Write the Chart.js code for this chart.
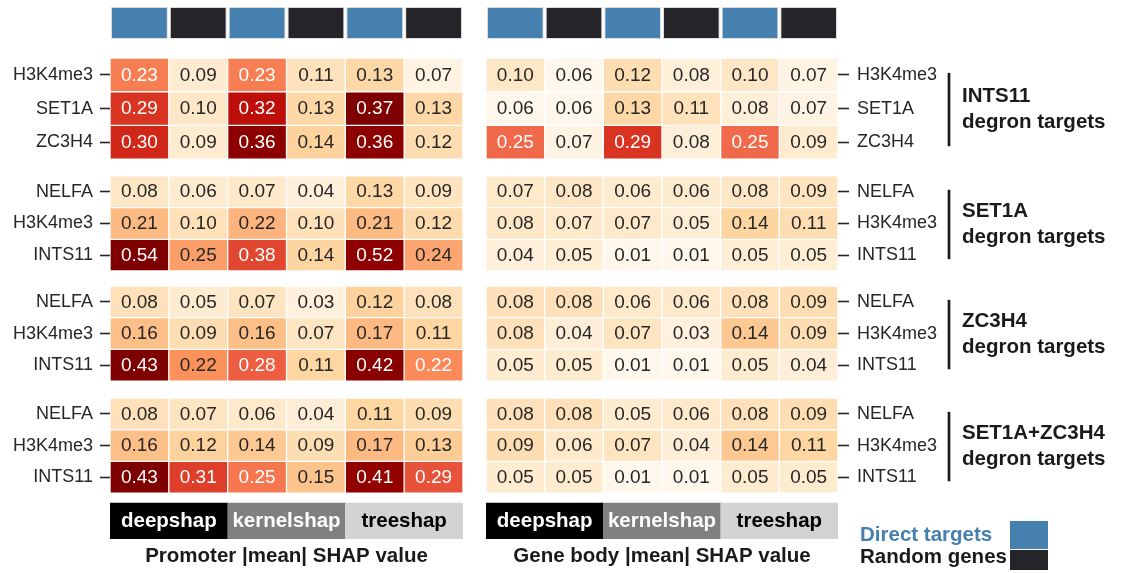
<!DOCTYPE html>
<html>
<head>
<meta charset="utf-8">
<script src="https://cdn.jsdelivr.net/npm/chart.js@4.4.1/dist/chart.umd.min.js"></script>
<style>
  html, body { margin: 0; padding: 0; background: #ffffff; }
  #wrap { position: relative; width: 1125px; height: 573px; overflow: hidden; background: #ffffff; }
  canvas { position: absolute; top: 0; }
  #promoterChart { left: 0; }
  #geneBodyChart { left: 480px; }
</style>
</head>
<body>
<div id="wrap">
  <canvas id="promoterChart" width="480" height="573"></canvas>
  <canvas id="geneBodyChart" width="645" height="573"></canvas>
</div>
<script>
// ---- data ----
const groupNames = ['INTS11', 'SET1A', 'ZC3H4', 'SET1A+ZC3H4'];
const rowLabels = [
  ['H3K4me3', 'SET1A', 'ZC3H4'],
  ['NELFA', 'H3K4me3', 'INTS11'],
  ['NELFA', 'H3K4me3', 'INTS11'],
  ['NELFA', 'H3K4me3', 'INTS11']
];
const methods = ['deepshap', 'kernelshap', 'treeshap'];
const geneSets = ['Direct targets', 'Random genes'];

// |mean| SHAP per row; columns: deepshap (direct, random), kernelshap (direct, random), treeshap (direct, random)
const promoter = [
  [0.23, 0.09, 0.23, 0.11, 0.13, 0.07],
  [0.29, 0.10, 0.32, 0.13, 0.37, 0.13],
  [0.30, 0.09, 0.36, 0.14, 0.36, 0.12],
  [0.08, 0.06, 0.07, 0.04, 0.13, 0.09],
  [0.21, 0.10, 0.22, 0.10, 0.21, 0.12],
  [0.54, 0.25, 0.38, 0.14, 0.52, 0.24],
  [0.08, 0.05, 0.07, 0.03, 0.12, 0.08],
  [0.16, 0.09, 0.16, 0.07, 0.17, 0.11],
  [0.43, 0.216, 0.28, 0.11, 0.42, 0.224],
  [0.08, 0.07, 0.06, 0.04, 0.11, 0.09],
  [0.16, 0.12, 0.14, 0.09, 0.17, 0.13],
  [0.43, 0.31, 0.25, 0.15, 0.41, 0.29]
];
const geneBody = [
  [0.10, 0.06, 0.12, 0.08, 0.10, 0.07],
  [0.06, 0.06, 0.13, 0.11, 0.08, 0.07],
  [0.25, 0.07, 0.29, 0.08, 0.25, 0.09],
  [0.07, 0.08, 0.06, 0.06, 0.08, 0.09],
  [0.08, 0.07, 0.07, 0.05, 0.14, 0.11],
  [0.04, 0.05, 0.01, 0.01, 0.05, 0.05],
  [0.08, 0.08, 0.06, 0.06, 0.08, 0.09],
  [0.08, 0.04, 0.07, 0.03, 0.14, 0.09],
  [0.05, 0.05, 0.01, 0.01, 0.05, 0.04],
  [0.08, 0.08, 0.05, 0.06, 0.08, 0.09],
  [0.09, 0.06, 0.07, 0.04, 0.14, 0.11],
  [0.05, 0.05, 0.01, 0.01, 0.05, 0.05]
];

// ---- layout (y in row units, 0 = top of the gene-set strip) ----
const HEADER_SPAN = [0, 1.01];
const GROUP_TOPS = [1.609, 5.327, 8.800, 12.333];
const GROUP_PITCH = [1.063, 1.0, 1.0, 1.0];
const METHOD_SPAN = [15.645, 16.78];
const Y_MAX = 16.78;

// ---- styles ----
const FONT = "'Liberation Sans', Arial, Helvetica, sans-serif";
const TEXT_DARK = '#262626';
const SET_COLOR = { 'Direct targets': '#4680ae', 'Random genes': '#252429' };
const METHOD_FILL = { deepshap: '#000000', kernelshap: '#808080', treeshap: '#d3d3d3' };
const METHOD_TEXT = { deepshap: '#ffffff', kernelshap: '#ffffff', treeshap: '#000000' };
const OR_RD = ['#fff7ec', '#fee8c8', '#fdd49e', '#fdbb84', '#fc8d59', '#ef6548', '#d7301f', '#b30000', '#7f0000'];

Chart.defaults.font.family = FONT;

// column categories: every method split into direct targets and random genes
const columnKeys = [];
methods.forEach(m => geneSets.forEach(s => columnKeys.push(m + ' · ' + s)));
const columnSet = columnKeys.map(k => k.split(' · ')[1]);

const flatRowLabels = rowLabels.flat();
const rowCenters = [];
rowLabels.forEach((rows, g) => rows.forEach((_, r) => rowCenters.push(GROUP_TOPS[g] + (r + 0.5) * GROUP_PITCH[g])));

// each block of three rows shares one colour range across both panels
const groupRange = groupNames.map((_, g) => {
  const vals = [];
  for (let r = 0; r < 3; r++) vals.push(...promoter[g * 3 + r], ...geneBody[g * 3 + r]);
  return [Math.min(...vals), Math.max(...vals)];
});

function hexToRgb(h) {
  const n = parseInt(h.slice(1), 16);
  return [(n >> 16) & 255, (n >> 8) & 255, n & 255];
}
const OR_RD_RGB = OR_RD.map(hexToRgb);

function orRd(t) {
  t = Math.max(0, Math.min(1, t));
  const pos = t * (OR_RD_RGB.length - 1);
  const i = Math.min(Math.floor(pos), OR_RD_RGB.length - 2);
  const f = pos - i;
  const a = OR_RD_RGB[i], b = OR_RD_RGB[i + 1];
  return [0, 1, 2].map(k => a[k] + (b[k] - a[k]) * f);
}
function cellRgb(v, g) {
  const [lo, hi] = groupRange[g];
  return orRd((v - lo) / (hi - lo));
}
function rgbCss(c) {
  return 'rgb(' + c.map(x => Math.round(x)).join(',') + ')';
}
function relLuminance(c) {
  const lin = c.map(x => {
    x = x / 255;
    return x <= 0.03928 ? x / 12.92 : Math.pow((x + 0.055) / 1.055, 2.4);
  });
  return 0.2126 * lin[0] + 0.7152 * lin[1] + 0.0722 * lin[2];
}

function buildDatasets(values) {
  const sets = [];
  sets.push({
    kind: 'header',
    data: columnKeys.map(() => HEADER_SPAN),
    backgroundColor: columnSet.map(s => SET_COLOR[s]),
    borderColor: '#dcdcdc',
    borderWidth: 1,
    borderSkipped: false,
    barPercentage: 0.966,
    categoryPercentage: 1
  });
  values.forEach((row, k) => {
    const g = Math.floor(k / 3), r = k % 3;
    const top = GROUP_TOPS[g] + r * GROUP_PITCH[g];
    sets.push({
      kind: 'cell',
      values: row,
      group: g,
      data: row.map(() => [top, top + GROUP_PITCH[g]]),
      backgroundColor: ctx => rgbCss(cellRgb(row[ctx.dataIndex], g)),
      borderColor: '#ffffff',
      borderWidth: 1,
      borderSkipped: false,
      barPercentage: 1,
      categoryPercentage: 1
    });
  });
  sets.push({
    kind: 'method',
    xAxisID: 'xm',
    data: methods.map(() => METHOD_SPAN),
    backgroundColor: methods.map(m => METHOD_FILL[m]),
    borderWidth: 0,
    barPercentage: 1,
    categoryPercentage: 1
  });
  return sets;
}

// value labels on the cells and method names on the bottom strip
const cellTextPlugin = {
  id: 'cellText',
  afterDatasetsDraw(chart) {
    const ctx = chart.ctx;
    ctx.save();
    ctx.textAlign = 'center';
    ctx.textBaseline = 'middle';
    chart.data.datasets.forEach((ds, i) => {
      const meta = chart.getDatasetMeta(i);
      if (ds.kind === 'cell') {
        ctx.font = '19px ' + FONT;
        meta.data.forEach((bar, j) => {
          const v = ds.values[j];
          const c = cellRgb(v, ds.group);
          ctx.fillStyle = relLuminance(c) > 0.408 ? TEXT_DARK : '#ffffff';
          const p = bar.getCenterPoint();
          ctx.fillText(v.toFixed(2), p.x, p.y + 0.5);
        });
      } else if (ds.kind === 'method') {
        ctx.font = 'bold 20.5px ' + FONT;
        meta.data.forEach((bar, j) => {
          const p = bar.getCenterPoint();
          ctx.fillStyle = METHOD_TEXT[methods[j]];
          ctx.fillText(methods[j], p.x, p.y);
        });
      }
    });
    ctx.restore();
  }
};

// group brackets with their titles, and the gene-set key
const sidePlugin = {
  id: 'sideNotes',
  afterDraw(chart) {
    const ctx = chart.ctx;
    const area = chart.chartArea;
    const y = chart.scales.y;
    ctx.save();
    const bx = area.right + 111;
    groupNames.forEach((name, g) => {
      const y0 = y.getPixelForValue(rowCenters[g * 3]) - 2;
      const y1 = y.getPixelForValue(rowCenters[g * 3 + 2]) + 4;
      ctx.strokeStyle = '#1a1a1a';
      ctx.lineWidth = 2.7;
      ctx.beginPath();
      ctx.moveTo(bx, y0);
      ctx.lineTo(bx, y1);
      ctx.stroke();
      const mid = (y0 + y1) / 2;
      ctx.fillStyle = '#1a1a1a';
      ctx.font = 'bold 20.5px ' + FONT;
      ctx.textAlign = 'left';
      ctx.textBaseline = 'middle';
      ctx.fillText(name, bx + 13, mid - 13);
      ctx.fillText('degron targets', bx + 13, mid + 12.5);
    });

    const lx = area.right + 22;
    const sx = area.right + 172;
    ctx.font = 'bold 20.5px ' + FONT;
    ctx.textAlign = 'left';
    ctx.textBaseline = 'middle';
    ctx.fillStyle = SET_COLOR['Direct targets'];
    ctx.fillText(geneSets[0], lx, 535);
    ctx.fillRect(sx, 521, 38, 28);
    ctx.fillStyle = '#1a1a1a';
    ctx.fillText(geneSets[1], lx, 557);
    ctx.fillStyle = SET_COLOR['Random genes'];
    ctx.fillRect(sx, 550, 38, 20);
    ctx.restore();
  }
};

function makeChart(canvasId, values, side, title, plugins) {
  return new Chart(document.getElementById(canvasId), {
    type: 'bar',
    data: { labels: columnKeys, datasets: buildDatasets(values) },
    options: {
      responsive: false,
      animation: false,
      events: [],
      layout: {
        padding: side === 'left'
          ? { left: 0, right: 17, top: 7, bottom: 0 }
          : { left: 6, right: 0, top: 7, bottom: 0 }
      },
      datasets: { bar: { grouped: false } },
      plugins: { legend: { display: false }, tooltip: { enabled: false } },
      scales: {
        x: {
          type: 'category',
          offset: true,
          grid: { display: false },
          border: { display: false },
          ticks: { display: false },
          title: {
            display: true,
            text: title,
            color: '#1a1a1a',
            font: { size: 20.5, weight: 'bold' },
            padding: { top: 0, bottom: 4 }
          },
          afterFit: s => { s.height = 34; }
        },
        xm: { type: 'category', labels: methods, offset: true, display: false },
        y: {
          type: 'linear',
          position: side,
          reverse: true,
          min: 0,
          max: Y_MAX,
          bounds: 'data',
          afterBuildTicks: s => { s.ticks = rowCenters.map(v => ({ value: v })); },
          afterFit: s => {
            s.width = side === 'left' ? 110 : 287;
            s.paddingTop = 0;
            s.paddingBottom = 0;
          },
          border: { display: false },
          grid: {
            drawOnChartArea: false,
            drawTicks: true,
            tickLength: side === 'left' ? 10 : 11,
            tickWidth: 1.6,
            tickColor: TEXT_DARK
          },
          ticks: {
            autoSkip: false,
            padding: side === 'left' ? 7 : 8,
            color: TEXT_DARK,
            font: { size: 18 },
            callback: (v, i) => flatRowLabels[i]
          }
        }
      }
    },
    plugins: plugins
  });
}

makeChart('promoterChart', promoter, 'left', 'Promoter |mean| SHAP value', [cellTextPlugin]);
makeChart('geneBodyChart', geneBody, 'right', 'Gene body |mean| SHAP value', [cellTextPlugin, sidePlugin]);
</script>
</body>
</html>
